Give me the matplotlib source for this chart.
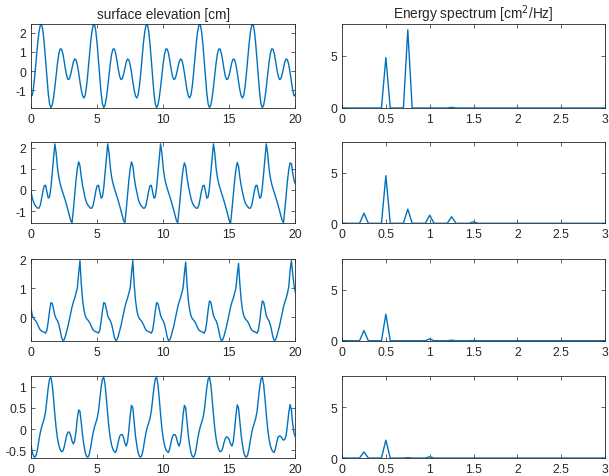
import numpy as np
import matplotlib
matplotlib.use("Agg")
import matplotlib.pyplot as plt

plt.rcParams['font.family'] = ['Liberation Sans', 'DejaVu Sans']

# sample times [s] and frequencies [Hz]
t = np.linspace(0, 20, 201)
freq = np.linspace(0, 3, 61)

# surface elevation [cm] (0.1 s steps)
elev_1 = [
    -1.33, -1.24, -0.78, -0.10, 0.68, 1.44, 2.04, 2.39, 2.44, 2.08,
    1.42, 0.55, -0.36, -1.16, -1.71, -1.90, -1.77, -1.39, -0.84, -0.20,
    0.41, 0.89, 1.15, 1.15, 0.93, 0.54, 0.10, -0.26, -0.44, -0.40,
    -0.17, 0.16, 0.47, 0.63, 0.59, 0.33, -0.07, -0.55, -0.98, -1.29,
    -1.40, -1.24, -0.78, -0.10, 0.68, 1.44, 2.04, 2.39, 2.44, 2.08,
    1.42, 0.55, -0.36, -1.16, -1.71, -1.90, -1.77, -1.39, -0.84, -0.20,
    0.41, 0.89, 1.15, 1.15, 0.93, 0.54, 0.10, -0.26, -0.44, -0.40,
    -0.17, 0.16, 0.47, 0.63, 0.59, 0.33, -0.07, -0.55, -0.98, -1.29,
    -1.40, -1.24, -0.78, -0.10, 0.68, 1.44, 2.04, 2.39, 2.44, 2.08,
    1.42, 0.55, -0.36, -1.16, -1.71, -1.90, -1.77, -1.39, -0.84, -0.20,
    0.41, 0.89, 1.15, 1.15, 0.93, 0.54, 0.10, -0.26, -0.44, -0.40,
    -0.17, 0.16, 0.47, 0.63, 0.59, 0.33, -0.07, -0.55, -0.98, -1.29,
    -1.40, -1.24, -0.78, -0.10, 0.68, 1.44, 2.04, 2.39, 2.44, 2.08,
    1.42, 0.55, -0.36, -1.16, -1.71, -1.90, -1.77, -1.39, -0.84, -0.20,
    0.41, 0.89, 1.15, 1.15, 0.93, 0.54, 0.10, -0.26, -0.44, -0.40,
    -0.17, 0.16, 0.47, 0.63, 0.59, 0.33, -0.07, -0.55, -0.98, -1.29,
    -1.40, -1.24, -0.78, -0.10, 0.68, 1.44, 2.04, 2.39, 2.44, 2.08,
    1.42, 0.55, -0.36, -1.16, -1.71, -1.90, -1.77, -1.39, -0.84, -0.20,
    0.41, 0.89, 1.15, 1.15, 0.93, 0.54, 0.10, -0.26, -0.44, -0.40,
    -0.17, 0.16, 0.47, 0.63, 0.59, 0.33, -0.07, -0.55, -0.98, -1.29,
    -1.22]

elev_2 = [
    -0.09, -0.40, -0.60, -0.72, -0.80, -0.87, -0.86, -0.72, -0.40, -0.05,
    0.20, 0.22, -0.08, -0.39, -0.33, 0.10, 0.80, 1.55, 2.18, 1.75,
    1.05, 0.60, 0.30, 0.08, -0.12, -0.32, -0.52, -0.74, -0.98, -1.22,
    -1.45, -1.56, -0.95, -0.25, 0.45, 1.00, 1.33, 1.15, 0.62, 0.20,
    -0.09, -0.40, -0.60, -0.72, -0.80, -0.87, -0.86, -0.72, -0.40, -0.05,
    0.20, 0.22, -0.08, -0.39, -0.33, 0.10, 0.80, 1.55, 2.18, 1.75,
    1.05, 0.60, 0.30, 0.08, -0.12, -0.32, -0.52, -0.74, -0.98, -1.22,
    -1.45, -1.56, -0.95, -0.25, 0.45, 1.00, 1.33, 1.15, 0.62, 0.20,
    -0.09, -0.40, -0.60, -0.72, -0.80, -0.87, -0.86, -0.72, -0.40, -0.05,
    0.20, 0.22, -0.08, -0.39, -0.33, 0.10, 0.80, 1.55, 2.18, 1.75,
    1.05, 0.60, 0.30, 0.08, -0.12, -0.32, -0.52, -0.74, -0.98, -1.22,
    -1.45, -1.56, -0.95, -0.27, 0.42, 0.96, 1.28, 1.12, 0.60, 0.20,
    -0.09, -0.40, -0.60, -0.72, -0.80, -0.87, -0.86, -0.72, -0.40, -0.05,
    0.20, 0.22, -0.08, -0.39, -0.33, 0.10, 0.80, 1.55, 2.18, 1.75,
    1.05, 0.60, 0.30, 0.08, -0.12, -0.32, -0.52, -0.74, -0.98, -1.22,
    -1.45, -1.56, -0.95, -0.27, 0.42, 0.96, 1.30, 1.12, 0.60, 0.20,
    -0.09, -0.40, -0.60, -0.72, -0.80, -0.87, -0.86, -0.72, -0.40, -0.05,
    0.20, 0.22, -0.08, -0.39, -0.33, 0.10, 0.80, 1.55, 2.18, 1.75,
    1.05, 0.60, 0.30, 0.08, -0.12, -0.32, -0.52, -0.74, -0.98, -1.22,
    -1.45, -1.56, -0.95, -0.27, 0.42, 0.96, 1.28, 1.25, 0.80, 0.45,
    0.28]

elev_3 = [
    0.30, 0.05, -0.05, -0.10, -0.16, -0.25, -0.36, -0.44, -0.48, -0.50,
    -0.52, -0.55, -0.45, -0.15, 0.22, 0.50, 0.48, 0.28, 0.06, -0.05,
    -0.12, -0.25, -0.45, -0.68, -0.80, -0.78, -0.65, -0.48, -0.30, -0.08,
    0.15, 0.35, 0.52, 0.65, 0.82, 1.00, 1.50, 1.95, 1.15, 0.60,
    0.25, 0.05, -0.05, -0.10, -0.16, -0.25, -0.36, -0.44, -0.48, -0.50,
    -0.52, -0.55, -0.45, -0.15, 0.22, 0.50, 0.48, 0.28, 0.06, -0.05,
    -0.12, -0.25, -0.45, -0.68, -0.80, -0.78, -0.65, -0.48, -0.30, -0.08,
    0.15, 0.35, 0.52, 0.65, 0.82, 1.00, 1.50, 1.95, 1.15, 0.60,
    0.25, 0.05, -0.05, -0.10, -0.16, -0.25, -0.36, -0.44, -0.48, -0.50,
    -0.52, -0.55, -0.45, -0.15, 0.22, 0.50, 0.48, 0.28, 0.06, -0.05,
    -0.12, -0.25, -0.45, -0.68, -0.80, -0.78, -0.65, -0.48, -0.30, -0.08,
    0.15, 0.35, 0.52, 0.65, 0.82, 1.00, 1.48, 1.90, 1.15, 0.60,
    0.25, 0.05, -0.05, -0.10, -0.16, -0.25, -0.36, -0.44, -0.48, -0.50,
    -0.52, -0.55, -0.45, -0.15, 0.25, 0.56, 0.52, 0.30, 0.06, -0.05,
    -0.12, -0.25, -0.45, -0.68, -0.80, -0.78, -0.65, -0.48, -0.30, -0.08,
    0.15, 0.35, 0.52, 0.65, 0.82, 1.00, 1.45, 1.85, 1.15, 0.60,
    0.25, 0.05, -0.05, -0.10, -0.16, -0.25, -0.36, -0.44, -0.48, -0.50,
    -0.52, -0.55, -0.45, -0.15, 0.25, 0.56, 0.52, 0.30, 0.06, -0.05,
    -0.12, -0.25, -0.45, -0.68, -0.80, -0.78, -0.65, -0.48, -0.30, -0.08,
    0.15, 0.35, 0.52, 0.65, 0.82, 1.05, 1.60, 1.95, 1.50, 1.10,
    0.85]

elev_4 = [
    -0.38, -0.55, -0.64, -0.66, -0.60, -0.45, -0.25, -0.08, 0.05, 0.15,
    0.25, 0.42, 0.70, 0.98, 1.18, 1.22, 1.05, 0.72, 0.35, 0.02,
    -0.22, -0.38, -0.48, -0.53, -0.52, -0.43, -0.28, -0.14, -0.07, -0.07,
    -0.15, -0.28, -0.35, -0.28, -0.05, 0.25, 0.45, 0.42, 0.15, -0.15,
    -0.38, -0.55, -0.64, -0.66, -0.60, -0.45, -0.25, -0.08, 0.05, 0.15,
    0.25, 0.42, 0.70, 0.98, 1.18, 1.22, 1.05, 0.72, 0.35, 0.02,
    -0.22, -0.38, -0.48, -0.53, -0.55, -0.45, -0.30, -0.17, -0.13, -0.13,
    -0.20, -0.33, -0.40, -0.30, -0.02, 0.32, 0.56, 0.50, 0.18, -0.15,
    -0.38, -0.55, -0.64, -0.66, -0.60, -0.45, -0.25, -0.08, 0.05, 0.15,
    0.25, 0.42, 0.70, 0.98, 1.18, 1.22, 1.05, 0.72, 0.35, 0.02,
    -0.22, -0.38, -0.48, -0.53, -0.55, -0.45, -0.30, -0.17, -0.13, -0.13,
    -0.20, -0.33, -0.40, -0.30, -0.02, 0.32, 0.56, 0.50, 0.18, -0.15,
    -0.38, -0.55, -0.64, -0.66, -0.60, -0.45, -0.25, -0.08, 0.05, 0.15,
    0.25, 0.42, 0.70, 0.98, 1.18, 1.22, 1.05, 0.72, 0.35, 0.02,
    -0.22, -0.38, -0.48, -0.53, -0.52, -0.45, -0.32, -0.22, -0.18, -0.20,
    -0.25, -0.35, -0.40, -0.30, -0.02, 0.32, 0.57, 0.50, 0.18, -0.15,
    -0.38, -0.55, -0.64, -0.66, -0.60, -0.45, -0.25, -0.08, 0.05, 0.15,
    0.25, 0.42, 0.70, 0.98, 1.18, 1.22, 1.05, 0.72, 0.35, 0.02,
    -0.22, -0.38, -0.48, -0.53, -0.55, -0.45, -0.30, -0.18, -0.16, -0.17,
    -0.22, -0.26, -0.24, -0.15, 0.10, 0.38, 0.58, 0.45, 0.12, -0.10,
    -0.18]

# energy spectrum [cm^2/Hz] at 0.05 Hz steps
spec_1 = [0, 0, 0, 0, 0, 0, 0, 0, 0, 0,
          4.8, 0, 0, 0, 0, 7.45, 0, 0, 0, 0,
          0, 0, 0, 0, 0, 0.06, 0, 0, 0, 0,
          0, 0, 0, 0, 0, 0, 0, 0, 0, 0,
          0, 0, 0, 0, 0, 0, 0, 0, 0, 0,
          0, 0, 0, 0, 0, 0, 0, 0, 0, 0, 0]
spec_2 = [0, 0, 0, 0, 0, 1.0, 0, 0, 0, 0,
          4.7, 0, 0, 0, 0, 1.4, 0, 0, 0, 0,
          0.8, 0, 0, 0, 0, 0.65, 0, 0, 0, 0,
          0.15, 0, 0, 0, 0, 0, 0, 0, 0, 0,
          0, 0, 0, 0, 0, 0, 0, 0, 0, 0,
          0, 0, 0, 0, 0, 0, 0, 0, 0, 0, 0]
spec_3 = [0, 0, 0, 0, 0, 1.0, 0, 0, 0, 0,
          2.6, 0, 0, 0, 0, 0, 0, 0, 0, 0,
          0.18, 0, 0, 0, 0, 0.05, 0, 0, 0, 0,
          0.03, 0, 0, 0, 0, 0, 0, 0, 0, 0,
          0, 0, 0, 0, 0, 0, 0, 0, 0, 0,
          0, 0, 0, 0, 0, 0, 0, 0, 0, 0, 0]
spec_4 = [0, 0, 0, 0, 0, 0.6, 0, 0, 0, 0,
          1.75, 0, 0, 0, 0, 0.04, 0, 0, 0, 0,
          0.12, 0, 0, 0, 0, 0, 0, 0, 0, 0,
          0, 0, 0, 0, 0, 0, 0, 0, 0, 0,
          0, 0, 0, 0, 0, 0, 0, 0, 0, 0,
          0, 0, 0, 0, 0, 0, 0, 0, 0, 0, 0]

elevations = [elev_1, elev_2, elev_3, elev_4]
spectra = [spec_1, spec_2, spec_3, spec_4]
elev_ylims = [(-1.92, 2.45), (-1.58, 2.26), (-0.81, 2.0), (-0.68, 1.24)]
elev_yticks = [[-1, 0, 1, 2], [-1, 0, 1, 2], [0, 1, 2], [-0.5, 0, 0.5, 1]]

line_col = '#0072BD'
txt_col = '#262626'

fig = plt.figure(figsize=(6.09, 4.77), dpi=100)
bottoms = [0.7715, 0.5298, 0.2836, 0.0377]
heights = [0.176, 0.170, 0.171, 0.171]


def style(ax):
    ax.tick_params(direction='in', top=True, right=True, length=3, width=0.5,
                   labelsize=8.7, colors=txt_col, pad=3.5)
    for s in ax.spines.values():
        s.set_color(txt_col)
        s.set_linewidth(0.6)


for i in range(4):
    ax = fig.add_axes([0.051, bottoms[i], 0.434, heights[i]])
    ax.plot(t, elevations[i], color=line_col, lw=1.0)
    ax.set_xlim(0, 20)
    ax.set_ylim(elev_ylims[i])
    ax.set_xticks([0, 5, 10, 15, 20])
    ax.set_yticks(elev_yticks[i])
    ax.set_yticklabels([f'{v:g}' for v in elev_yticks[i]])
    style(ax)
    if i == 0:
        ax.set_title('surface elevation [cm]', fontsize=9.8, color=txt_col, pad=4)

    ax2 = fig.add_axes([0.5616, bottoms[i], 0.432, heights[i]])
    ax2.plot(freq, spectra[i], color=line_col, lw=1.0)
    ax2.set_xlim(0, 3)
    ax2.set_ylim(0, 8)
    ax2.set_xticks([0, 0.5, 1, 1.5, 2, 2.5, 3])
    ax2.set_xticklabels(['0', '0.5', '1', '1.5', '2', '2.5', '3'])
    ax2.set_yticks([0, 5])
    style(ax2)
    if i == 0:
        ax2.set_title('Energy spectrum [cm$^2$/Hz]', fontsize=9.8, color=txt_col, pad=4)

fig.savefig('out.png', dpi=100)
